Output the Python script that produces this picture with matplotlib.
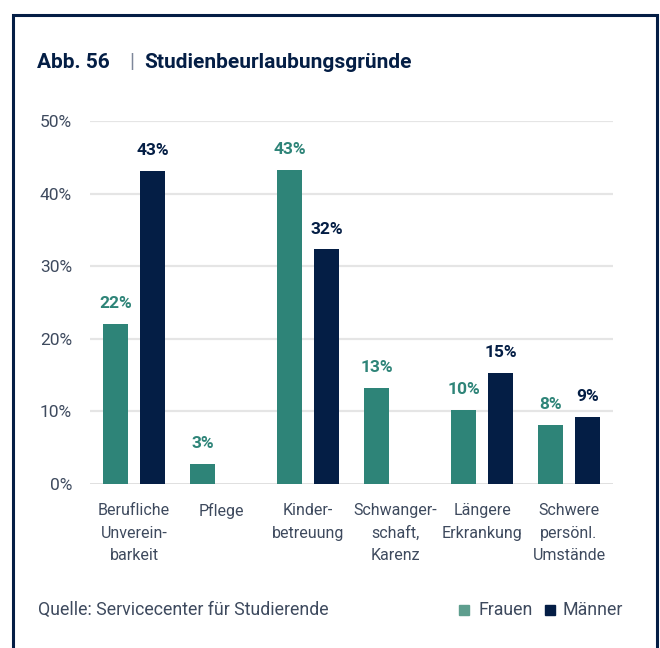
import matplotlib
matplotlib.use("Agg")
import numpy as np
import matplotlib.pyplot as plt
from matplotlib.patches import Rectangle

# Anteil der Beurlaubungsgründe in Prozent
categories = ["Berufliche\nUnverein-\nbarkeit", "Pflege", "Kinder-\nbetreuung",
              "Schwanger-\nschaft,\nKarenz", "Längere\nErkrankung",
              "Schwere\npersönl.\nUmstände"]
frauen = [22.0, 2.8, 43.3, 13.2, 10.2, 8.1]
maenner = [43.1, np.nan, 32.3, np.nan, 15.3, 9.2]
yticks = [0, 10, 20, 30, 40, 50]

TEAL = "#2E8478"
NAVY = "#041E45"
TICK = "#3E4A5E"
FONT = ["Roboto", "DejaVu Sans"]

fig = plt.figure(figsize=(6.6, 6.48), dpi=100)
ax = fig.add_axes([0.1364, 0.2531, 0.7924, 0.5602])

x = np.arange(len(categories))
w = 0.287
off = 0.213
ax.bar(x - off, frauen, w, color=TEAL)
ax.bar(x + off, maenner, w, color=NAVY)

for xi, v in zip(x, frauen):
    ax.annotate(f"{v:.0f}%", (xi - off, v), xytext=(0, 11.5),
                textcoords="offset points", ha="center", va="baseline",
                color=TEAL, fontsize=12.5, fontweight="bold", family=FONT)
for xi, v in zip(x, maenner):
    if np.isnan(v):
        continue
    ax.annotate(f"{v:.0f}%", (xi + off, v), xytext=(0, 11.5),
                textcoords="offset points", ha="center", va="baseline",
                color=NAVY, fontsize=12.5, fontweight="bold", family=FONT)

ax.set_xlim(-0.506, 5.506)
ax.set_ylim(0, 50)
ax.set_yticks(yticks)
ax.set_yticklabels([f"{t}%" for t in yticks], color=TICK, fontsize=12.5,
                   family=FONT)
ax.tick_params(axis="y", length=0, pad=13)
ax.set_xticks(x)
ax.set_xticklabels(categories, color=TICK, fontsize=11.5, family=FONT,
                   linespacing=1.6, va="top")
ax.tick_params(axis="x", length=0, pad=14)
for t in yticks[1:]:
    ax.axhline(t, color="#E5E5E5", lw=1.6, zorder=0)
ax.axhline(0, color="#D6D6D6", lw=1.8, zorder=0)
for s in ax.spines.values():
    s.set_visible(False)

# Titel
ty = 1 - 63 / 648
fig.text(37 / 660, ty, "Abb. 56", fontsize=15, fontweight="bold",
         color=NAVY, family=FONT, va="center")
fig.text(129 / 660, ty, "|", fontsize=15, color="#7D879A",
         family=FONT, va="center")
fig.text(144 / 660, ty, "Studienbeurlaubungsgründe", fontsize=15,
         fontweight="bold", color=NAVY, family=FONT, va="center")

# Quelle und Legende
ly = 1 - 610 / 648
fig.text(38 / 660, ly, "Quelle: Servicecenter für Studierende",
         fontsize=12.8, color=TICK, family=FONT, va="center")
fig.patches.append(Rectangle((459 / 660, ly - 5 / 648), 10 / 660, 10 / 648,
                             transform=fig.transFigure, color="#5E9E8E"))
fig.text(478 / 660, ly, "Frauen", fontsize=12.8, color=TICK,
         family=FONT, va="center")
fig.patches.append(Rectangle((545 / 660, ly - 5 / 648), 10 / 660, 10 / 648,
                             transform=fig.transFigure, color=NAVY))
fig.text(563 / 660, ly, "Männer", fontsize=12.8, color=TICK,
         family=FONT, va="center")

# Rahmen
fig.patches.append(Rectangle((13 / 660, -0.05), 644 / 660, 1.05 - 15 / 648,
                             transform=fig.transFigure, fill=False,
                             edgecolor=NAVY, lw=2.2))

fig.savefig("out.png", dpi=100)
